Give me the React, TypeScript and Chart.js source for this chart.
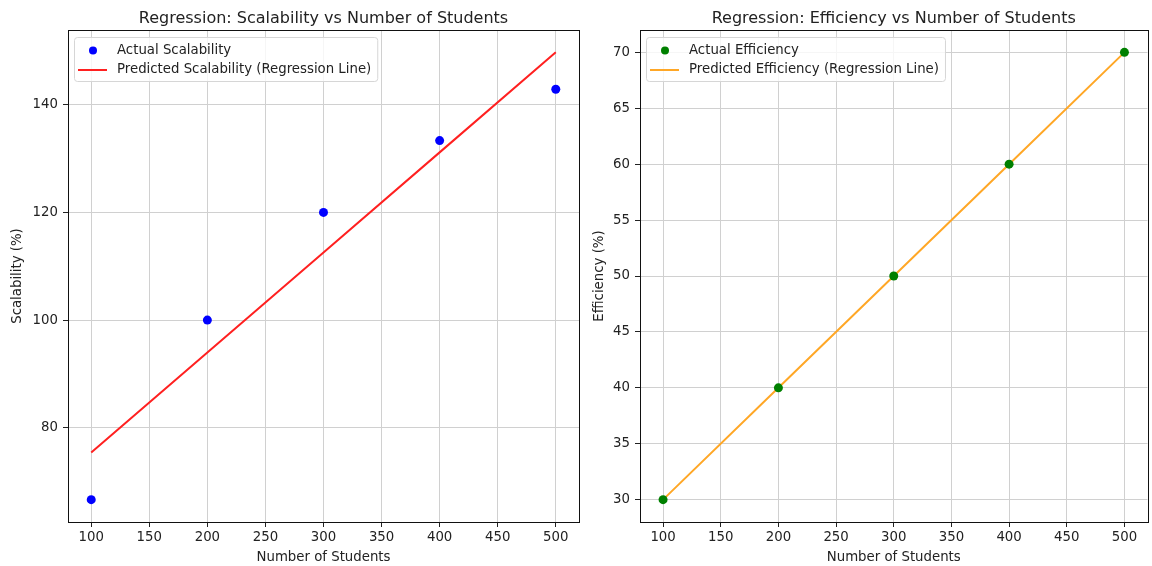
import React, { useEffect, useRef } from "react";
import { Chart, registerables } from "chart.js";
Chart.register(...registerables);

const students = [100, 200, 300, 400, 500];
const scalabilityActual = [66.67, 100, 120, 133.33, 142.86];
const scalabilityPredicted = [75.43, 94.0, 112.57, 131.14, 149.71];
const efficiencyActual = [30, 40, 50, 60, 70];
const efficiencyPredicted = [30, 40, 50, 60, 70];
const xTicks = [100, 150, 200, 250, 300, 350, 400, 450, 500];
const scalabilityTicks = [80, 100, 120, 140];
const efficiencyTicks = [30, 35, 40, 45, 50, 55, 60, 65, 70];

const FONT = "'DejaVu Sans', sans-serif";
const TEXT = "#222";
const FS = 13.3;

const innerLegend = {
  id: "innerLegend",
  afterDraw(chart: any) {
    const ctx = chart.ctx;
    const { left, top } = chart.chartArea;
    ctx.save();
    ctx.font = `${FS}px ${FONT}`;
    const ds = chart.data.datasets;
    let maxW = 0;
    ds.forEach((d: any) => { maxW = Math.max(maxW, ctx.measureText(d.label).width); });
    const bx = left + 6.5, by = top + 7.5, bw = 43 + maxW + 6, bh = 44;
    ctx.beginPath();
    ctx.roundRect(bx, by, bw, bh, 3);
    ctx.fillStyle = "rgba(255,255,255,0.8)";
    ctx.fill();
    ctx.strokeStyle = "#d6d6d6";
    ctx.lineWidth = 1;
    ctx.stroke();
    ds.forEach((d: any, i: number) => {
      const cy = top + 20.5 + i * 19.5;
      if (d.type === "scatter") {
        ctx.beginPath();
        ctx.arc(left + 25, cy, 4, 0, Math.PI * 2);
        ctx.fillStyle = d.backgroundColor;
        ctx.fill();
      } else {
        ctx.beginPath();
        ctx.moveTo(left + 10, cy);
        ctx.lineTo(left + 39, cy);
        ctx.strokeStyle = d.borderColor;
        ctx.lineWidth = 2;
        ctx.stroke();
      }
      ctx.fillStyle = TEXT;
      ctx.textBaseline = "middle";
      ctx.textAlign = "left";
      ctx.fillText(d.label, left + 49, cy);
    });
    ctx.restore();
  },
};

const frame = {
  id: "frame",
  afterDatasetsDraw(chart: any) {
    const { left, top, right, bottom } = chart.chartArea;
    const ctx = chart.ctx;
    ctx.save();
    ctx.strokeStyle = "#111";
    ctx.lineWidth = 1;
    ctx.strokeRect(Math.round(left) + 0.5, Math.round(top) + 0.5, Math.round(right - left), Math.round(bottom - top));
    ctx.restore();
  },
};

function makeConfig(opts: {
  title: string;
  yTitle: string;
  actual: number[];
  predicted: number[];
  actualLabel: string;
  predictedLabel: string;
  pointColor: string;
  lineColor: string;
  yMin: number;
  yMax: number;
  yTicks: number[];
  yWidth: number;
  yTitlePad: number;
  padRight: number;
}) {
  const gridCommon = {
    color: "#d0d0d0",
    lineWidth: 1,
    drawTicks: true,
    tickLength: 5,
    tickColor: "#222",
  };
  return {
    data: {
      datasets: [
        {
          type: "scatter",
          label: opts.actualLabel,
          data: students.map((x, i) => ({ x, y: opts.actual[i] })),
          backgroundColor: opts.pointColor,
          borderColor: opts.pointColor,
          pointRadius: 4.5,
          pointBorderWidth: 0,
        },
        {
          type: "line",
          label: opts.predictedLabel,
          data: students.map((x, i) => ({ x, y: opts.predicted[i] })),
          borderColor: opts.lineColor,
          backgroundColor: opts.lineColor,
          borderWidth: 2,
          pointRadius: 0,
          tension: 0,
          fill: false,
        },
      ],
    },
    options: {
      animation: false,
      responsive: false,
      layout: { padding: { top: 0, right: opts.padRight, bottom: 0, left: 0 } },
      plugins: {
        legend: { display: false },
        tooltip: { enabled: false },
        title: {
          display: true,
          text: opts.title,
          fullSize: false,
          color: TEXT,
          font: { family: FONT, size: 16, weight: "normal", lineHeight: 1.2 },
          padding: { top: 9, bottom: 1.8 },
        },
      },
      scales: {
        x: {
          type: "linear",
          min: 80,
          max: 520,
          afterBuildTicks: (s: any) => { s.ticks = xTicks.map((v) => ({ value: v })); },
          afterFit: (s: any) => { s.height = 44; },
          grid: gridCommon,
          border: { display: false },
          ticks: { color: TEXT, font: { family: FONT, size: FS }, padding: 3, maxRotation: 0, autoSkip: false },
          title: {
            display: true,
            text: "Number of Students",
            color: TEXT,
            font: { family: FONT, size: FS },
            padding: { top: 0, bottom: 0.5 },
          },
        },
        y: {
          type: "linear",
          min: opts.yMin,
          max: opts.yMax,
          afterBuildTicks: (s: any) => { s.ticks = opts.yTicks.map((v) => ({ value: v })); },
          afterFit: (s: any) => { s.width = opts.yWidth; },
          grid: gridCommon,
          border: { display: false },
          ticks: { color: TEXT, font: { family: FONT, size: FS }, padding: 5, autoSkip: false },
          title: {
            display: true,
            text: opts.yTitle,
            color: TEXT,
            font: { family: FONT, size: FS },
            padding: { top: opts.yTitlePad, bottom: 0 },
          },
        },
      },
    },
    plugins: [frame, innerLegend],
  };
}

function Panel({ left, width, config }: { left: number; width: number; config: any }) {
  const ref = useRef<HTMLCanvasElement | null>(null);
  useEffect(() => {
    if (!ref.current) return;
    const chart = new Chart(ref.current, config);
    return () => chart.destroy();
  }, []);
  return (
    <div style={{ position: "absolute", left, top: 0, width, height: 566 }}>
      <canvas ref={ref} width={width} height={566} style={{ display: "block" }} />
    </div>
  );
}

export default function App() {
  const leftConfig = makeConfig({
    title: "Regression: Scalability vs Number of Students",
    yTitle: "Scalability (%)",
    actual: scalabilityActual,
    predicted: scalabilityPredicted,
    actualLabel: "Actual Scalability",
    predictedLabel: "Predicted Scalability (Regression Line)",
    pointColor: "#0000ff",
    lineColor: "#ff2020",
    yMin: 62.52,
    yMax: 153.86,
    yTicks: scalabilityTicks,
    yWidth: 68,
    yTitlePad: 10,
    padRight: 11,
  });
  const rightConfig = makeConfig({
    title: "Regression: Efficiency vs Number of Students",
    yTitle: "Efficiency (%)",
    actual: efficiencyActual,
    predicted: efficiencyPredicted,
    actualLabel: "Actual Efficiency",
    predictedLabel: "Predicted Efficiency (Regression Line)",
    pointColor: "#008000",
    lineColor: "#ffa726",
    yMin: 28,
    yMax: 72,
    yTicks: efficiencyTicks,
    yWidth: 60,
    yTitlePad: 12,
    padRight: 1,
  });
  return (
    <div style={{ position: "fixed", left: 0, top: 0, width: 1152, height: 566, background: "#fff" }}>
      <Panel left={0} width={590} config={leftConfig} />
      <Panel left={580} width={572} config={rightConfig} />
    </div>
  );
}
